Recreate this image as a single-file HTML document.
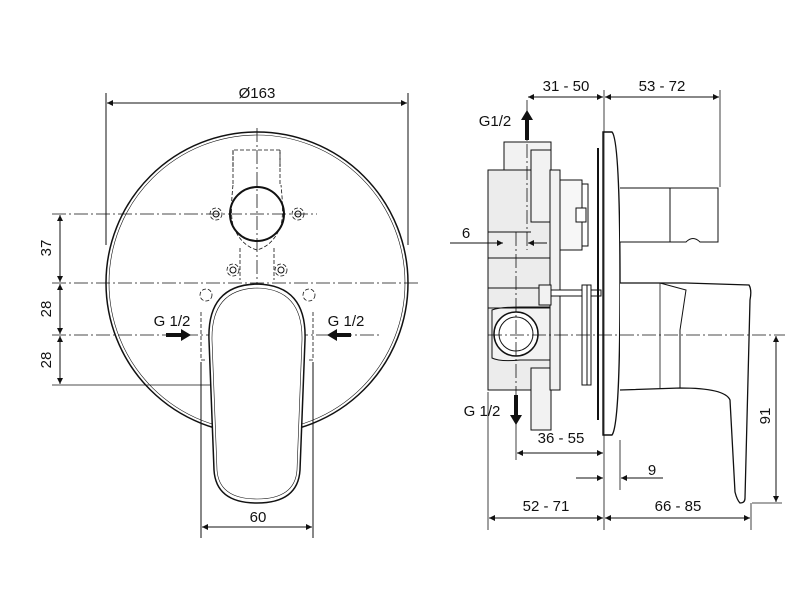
<!DOCTYPE html>
<html><head><meta charset="utf-8"><style>
html,body{margin:0;padding:0;background:#fff;width:800px;height:600px;overflow:hidden}
svg{display:block}
text{font-family:"Liberation Sans",sans-serif;font-size:15px;fill:#111}
</style></head><body>
<svg width="800" height="600" viewBox="0 0 800 600" xmlns="http://www.w3.org/2000/svg">
<defs>
<marker id="a" viewBox="0 0 10 10" refX="10" refY="5" markerWidth="10" markerHeight="6" orient="auto-start-reverse" markerUnits="userSpaceOnUse"><path d="M0,0 L10,5 L0,10z" fill="#111"/></marker>
</defs>
<g stroke="#111" fill="none" stroke-width="1">
<!-- LEFT VIEW -->
<line x1="106" y1="93" x2="106" y2="245"/><line x1="408" y1="93" x2="408" y2="245"/>
<line x1="107" y1="103" x2="407" y2="103" marker-start="url(#a)" marker-end="url(#a)"/>
<circle cx="257" cy="283" r="151" stroke-width="1.5"/>
<circle cx="257" cy="283" r="148" stroke-width="0.6"/>
<!-- centerlines -->
<g stroke-dasharray="14,3,2,3" stroke-width="0.8">
<line x1="257" y1="128" x2="257" y2="470"/>
<line x1="52" y1="214" x2="317" y2="214"/>
<line x1="52" y1="283" x2="420" y2="283"/>
<line x1="52" y1="335" x2="380" y2="335"/>
</g>
<line x1="52" y1="385" x2="285" y2="385" stroke-width="0.8"/>
<!-- dashed box -->
<g stroke-dasharray="4,2" stroke-width="0.8">
<path d="M233,167 V150 H280 V167"/>
<path d="M233,150 V185 M280,150 V185"/>
<path d="M233,185 Q230,214 233,225 Q240,245 257,250 Q274,245 281,225 Q284,214 281,185"/>
<path d="M240,248 V280 M274,248 V280"/>
<path d="M201,312 V360 H206 M313,312 V360 H308"/>
<path d="M230,370 V382 H283 V370"/>
<circle cx="216" cy="214" r="6"/><circle cx="298" cy="214" r="6"/>
<circle cx="233" cy="270" r="6"/><circle cx="281" cy="270" r="6"/>
<circle cx="206" cy="295" r="6"/><circle cx="309" cy="295" r="6"/>
</g>
<circle cx="216" cy="214" r="3"/><circle cx="298" cy="214" r="3"/>
<circle cx="233" cy="270" r="3"/><circle cx="281" cy="270" r="3"/>
<circle cx="257" cy="214" r="27" stroke-width="2"/>
<!-- handle -->
<path d="M209,340 Q207,285 257,284 Q307,285 305,340 L300,470 Q298,503 257,503 Q216,503 214,470 Z" fill="#fff" stroke-width="1.5"/>
<path d="M212,340 Q211,289 257,288 Q303,289 302,340 L297,470 Q295,499 257,499 Q219,499 217,470 Z" stroke-width="0.6"/>
<!-- vertical dims -->
<line x1="60" y1="215" x2="60" y2="282" marker-start="url(#a)" marker-end="url(#a)"/>
<line x1="60" y1="284" x2="60" y2="334" marker-start="url(#a)" marker-end="url(#a)"/>
<line x1="60" y1="336" x2="60" y2="384" marker-start="url(#a)" marker-end="url(#a)"/>
<!-- 60 -->
<line x1="201" y1="362" x2="201" y2="538"/><line x1="313" y1="362" x2="313" y2="538"/>
<line x1="202" y1="527" x2="312" y2="527" marker-start="url(#a)" marker-end="url(#a)"/>
</g>
<path d="M166,333 H181 V329 L191,335 L181,341 V337 H166z" fill="#111"/>
<path d="M351,333 H337 V329 L327,335 L337,341 V337 H351z" fill="#111"/>
<text x="257" y="98" text-anchor="middle">Ø163</text>
<text x="172" y="326" text-anchor="middle">G 1/2</text>
<text x="346" y="326" text-anchor="middle">G 1/2</text>
<text x="258" y="522" text-anchor="middle">60</text>
<text transform="translate(51,248) rotate(-90)" text-anchor="middle">37</text>
<text transform="translate(51,309) rotate(-90)" text-anchor="middle">28</text>
<text transform="translate(51,360) rotate(-90)" text-anchor="middle">28</text>

<!-- RIGHT VIEW -->
<g stroke="#111" stroke-width="1">
<rect x="504" y="142" width="47" height="30" fill="#f2f2f2"/>
<rect x="488" y="170" width="62" height="220" fill="#ececec"/>
<rect x="531" y="150" width="20" height="72" fill="#f2f2f2"/>
<rect x="531" y="368" width="20" height="62" fill="#f2f2f2"/>
<rect x="550" y="170" width="10" height="220" fill="#f2f2f2"/>
<rect x="560" y="180" width="22" height="70" fill="#f7f7f7"/>
<rect x="582" y="184" width="6" height="62" fill="#fff"/>
<rect x="576" y="208" width="10" height="14" fill="#fff"/>
<rect x="539" y="285" width="12" height="20" fill="#f2f2f2"/>
<rect x="551" y="290" width="50" height="6" fill="#fff"/>
<rect x="582" y="285" width="5" height="100" fill="#fff"/>
<rect x="587" y="285" width="4" height="100" fill="#fff"/>
<path d="M492,310 Q500,307 520,307 H550 V360 H520 Q500,362 492,358 Z" fill="#f2f2f2"/>
<circle cx="516" cy="334" r="22" fill="#fff" stroke-width="1.5"/>
<circle cx="516" cy="334" r="17" fill="#fff"/>
<line x1="488" y1="232" x2="531" y2="232"/><line x1="488" y1="258" x2="550" y2="258"/>
<line x1="488" y1="288" x2="539" y2="288"/><line x1="488" y1="308" x2="550" y2="308"/>
<!-- escutcheon -->
<path d="M603,132 H612 Q620,140 620,285 Q620,425 612,435 H603 Z" fill="#fff" stroke-width="1.4"/>
<line x1="598" y1="148" x2="598" y2="420" stroke-width="2"/>
<!-- diverter -->
<path d="M620,188 H718 V242 H700 Q693,235 686,242 H620" fill="#fff"/>
<line x1="670" y1="188" x2="670" y2="242"/>
<!-- lever -->
<path d="M620,283 H686 L749,285 Q752,290 750,300 L745,498 Q745,503 740,503 Q737,500 735,492 L730,400 Q725,388 680,388 L620,390" fill="#fff" stroke-width="1.3"/>
<path d="M660,283 L686,290 L680,330 L680,388" fill="none"/>
<line x1="660" y1="283" x2="660" y2="388" stroke-width="0.8"/>
</g>
<g stroke="#111" fill="none" stroke-width="0.8">
<g stroke-dasharray="14,3,2,3">
<line x1="488" y1="335" x2="785" y2="335"/>
<line x1="516" y1="232" x2="516" y2="398"/>
<line x1="527" y1="100" x2="527" y2="250"/>
</g>
<!-- extension lines -->
<line x1="604" y1="90" x2="604" y2="530"/>
<line x1="720" y1="90" x2="720" y2="187"/>
<line x1="620" y1="440" x2="620" y2="490"/>
<line x1="488" y1="392" x2="488" y2="530"/>
<line x1="751" y1="503" x2="751" y2="530"/>
<line x1="516" y1="420" x2="516" y2="460"/>
<line x1="752" y1="503" x2="782" y2="503"/>
</g>
<g stroke="#111" stroke-width="1" fill="none">
<line x1="528" y1="97" x2="603" y2="97" marker-start="url(#a)" marker-end="url(#a)"/>
<line x1="605" y1="97" x2="719" y2="97" marker-start="url(#a)" marker-end="url(#a)"/>
<line x1="450" y1="243" x2="503" y2="243" marker-end="url(#a)"/>
<line x1="547" y1="243" x2="528" y2="243" marker-end="url(#a)"/>
<line x1="517" y1="453" x2="603" y2="453" marker-start="url(#a)" marker-end="url(#a)"/>
<line x1="576" y1="478" x2="603" y2="478" marker-end="url(#a)"/>
<line x1="663" y1="478" x2="621" y2="478" marker-end="url(#a)"/>
<line x1="489" y1="518" x2="603" y2="518" marker-start="url(#a)" marker-end="url(#a)"/>
<line x1="605" y1="518" x2="750" y2="518" marker-start="url(#a)" marker-end="url(#a)"/>
<line x1="776" y1="336" x2="776" y2="502" marker-start="url(#a)" marker-end="url(#a)"/>
</g>
<path d="M525,140 V120 H521 L527,110 L533,120 H529 V140z" fill="#111"/>
<path d="M514,395 V415 H510 L516,425 L522,415 H518 V395z" fill="#111"/>
<text x="566" y="91" text-anchor="middle">31 - 50</text>
<text x="662" y="91" text-anchor="middle">53 - 72</text>
<text x="495" y="126" text-anchor="middle">G1/2</text>
<text x="466" y="238" text-anchor="middle">6</text>
<text x="482" y="416" text-anchor="middle">G 1/2</text>
<text x="561" y="443" text-anchor="middle">36 - 55</text>
<text x="652" y="475" text-anchor="middle">9</text>
<text x="546" y="511" text-anchor="middle">52 - 71</text>
<text x="678" y="511" text-anchor="middle">66 - 85</text>
<text transform="translate(770,416) rotate(-90)" text-anchor="middle">91</text>
</svg>
</body></html>
